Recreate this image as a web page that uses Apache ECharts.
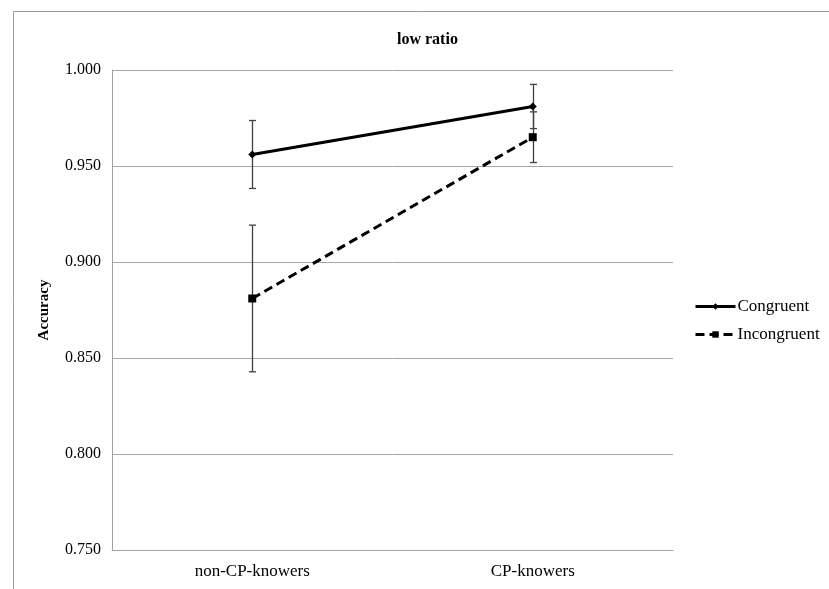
<!DOCTYPE html>
<html>
<head>
<meta charset="utf-8">
<script src="https://cdn.jsdelivr.net/npm/echarts@6/dist/echarts.min.js"></script>
<style>html,body{margin:0;padding:0;background:#fff}#c{width:829px;height:589px}</style>
</head>
<body>
<div id="c"></div>
<script>
var titleText = 'low ratio';
var categories = ['non-CP-knowers', 'CP-knowers'];
var congruent = [0.956, 0.981];
var congruentErr = [0.0177, 0.0115];
var incongruent = [0.881, 0.965];
var incongruentErr = [0.0382, 0.0132];
var seriesNames = ['Congruent', 'Incongruent'];
var yMin = 0.75, yMax = 1.0, yStep = 0.05;

var serif = '"Liberation Serif", "Times New Roman", serif';

function errData(vals, errs) {
  return vals.map(function (v, i) { return [i, v - errs[i], v + errs[i]]; });
}
function errSeries(vals, errs) {
  return {
    type: 'custom',
    silent: true,
    z: 1,
    data: errData(vals, errs),
    renderItem: function (params, api) {
      var lo = api.coord([api.value(0), api.value(1)]);
      var hi = api.coord([api.value(0), api.value(2)]);
      var x = Math.round(lo[0]) + 0.5;
      var hw = 3.5;
      var st = { stroke: '#404040', lineWidth: 1.3 };
      return {
        type: 'group',
        children: [
          { type: 'line', shape: { x1: x, y1: hi[1], x2: x, y2: lo[1] }, style: st },
          { type: 'line', shape: { x1: x - hw, y1: hi[1], x2: x + hw, y2: hi[1] }, style: st },
          { type: 'line', shape: { x1: x - hw, y1: lo[1], x2: x + hw, y2: lo[1] }, style: st }
        ]
      };
    }
  };
}

var chart = echarts.init(document.getElementById('c'), null, { renderer: 'canvas' });
chart.setOption({
  backgroundColor: '#fff',
  animation: false,
  title: {
    text: titleText,
    left: 392,
    top: 27,
    textStyle: { fontFamily: serif, fontWeight: 'bold', fontSize: 16, color: '#000' }
  },
  graphic: [{
    type: 'rect',
    shape: { x: 13.5, y: 11.5, width: 900, height: 700 },
    style: { fill: 'none', stroke: '#9a9a9a', lineWidth: 1 },
    silent: true
  }],
  legend: {
    orient: 'vertical',
    left: 689,
    top: 293,
    itemWidth: 40,
    itemHeight: 8,
    itemGap: 11,
    data: seriesNames,
    lineStyle: { width: 3 },
    textStyle: { fontFamily: serif, fontSize: 17, color: '#000', padding: [0, 0, 0, -3] }
  },
  grid: { left: 112, top: 70, width: 561, height: 480, containLabel: false },
  xAxis: {
    type: 'category',
    data: categories,
    boundaryGap: true,
    axisLine: { lineStyle: { color: '#a0a0a0', width: 1 } },
    axisTick: { show: false },
    axisLabel: { fontFamily: serif, fontSize: 17, color: '#000', margin: 13 }
  },
  yAxis: {
    type: 'value',
    min: yMin,
    max: yMax,
    interval: yStep,
    name: 'Accuracy',
    nameLocation: 'middle',
    nameGap: 60,
    nameRotate: 90,
    nameTextStyle: { fontFamily: serif, fontSize: 15, fontWeight: 'bold', color: '#000' },
    axisLine: { show: true, lineStyle: { color: '#a0a0a0', width: 1 } },
    axisTick: { show: false },
    splitLine: { lineStyle: { color: '#a6a6a6', width: 1 } },
    axisLabel: {
      fontFamily: serif, fontSize: 16, color: '#000', margin: 11,
      formatter: function (v) { return v.toFixed(3); }
    }
  },
  series: [
    errSeries(congruent, congruentErr),
    errSeries(incongruent, incongruentErr),
    {
      name: seriesNames[0],
      type: 'line',
      data: congruent,
      z: 3,
      symbol: 'diamond',
      symbolSize: 8,
      itemStyle: { color: '#000' },
      lineStyle: { color: '#000', width: 3, type: 'solid' }
    },
    {
      name: seriesNames[1],
      type: 'line',
      data: incongruent,
      z: 3,
      symbol: 'rect',
      symbolSize: 8,
      itemStyle: { color: '#000' },
      lineStyle: { color: '#000', width: 3, type: [9, 5] }
    }
  ]
});
</script>
</body>
</html>
